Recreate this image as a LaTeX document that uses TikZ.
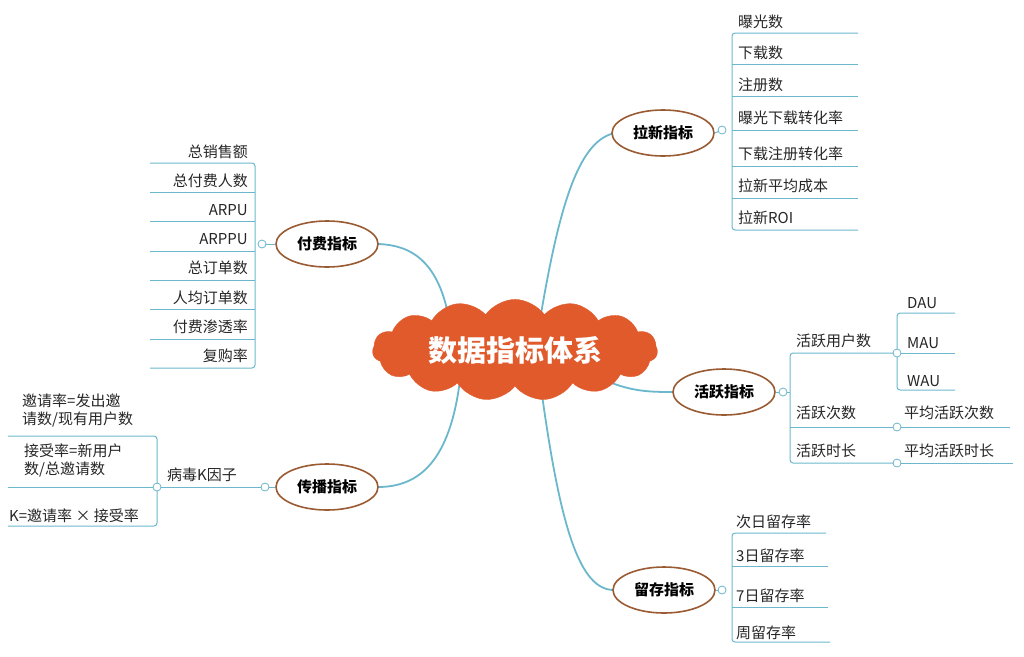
\documentclass[tikz,border=0pt]{standalone}
\usepackage{fontspec}
\setmainfont{Noto Sans CJK SC}
\usetikzlibrary{shapes.symbols,shapes.geometric}
\definecolor{teal}{HTML}{6BB7CC}
\definecolor{brn}{HTML}{9A5B33}
\definecolor{org}{HTML}{E05A2B}
\begin{document}
\begin{tikzpicture}[x=1pt,y=-1pt,
  br/.style={draw=teal,line width=1.8pt},
  ln/.style={draw=teal,line width=1pt,rounded corners=3pt},
  dot/.style={circle,draw=teal,fill=white,line width=0.8pt,inner sep=0pt,minimum size=8pt},
  ell/.style={ellipse,draw=brn,line width=1.6pt,fill=white,minimum width=102pt,minimum height=46pt,font=\fontsize{15}{15}\selectfont\bfseries},
  it/.style={font=\fontsize{15}{18}\selectfont,inner sep=0pt,text=black!85},
  itr/.style={it,anchor=base east},
  itl/.style={it,anchor=base west}]
\useasboundingbox (0,0) rectangle (1024,656);
% branches
\draw[br] (540,320) .. controls (560,200) and (580,140) .. (615,133);
\draw[br] (450,325) .. controls (440,260) and (410,245) .. (378,244);
\draw[br] (600,378) .. controls (630,392) and (650,392) .. (674,392);
\draw[br] (460,380) .. controls (450,460) and (420,487) .. (378,487);
\draw[br] (540,380) .. controls (560,530) and (580,590) .. (614,590);
\node[cloud,cloud puffs=15,cloud puff arc=110,aspect=3.4,fill=org,draw=org,minimum width=285pt,minimum height=90pt,text=white,font=\fontsize{29}{29}\selectfont\bfseries] (root) at (515,350) {数据指标体系};
% 拉新
\node[ell] (lx) at (663,133) {拉新指标};
\draw[ln] (lx.east) -- (722,130);
\draw[ln] (858,33) -- (732,33) -- (732,230) -- (858,230);
\foreach \y in {64,96,130,166,198} \draw[ln] (732,\y) -- (858,\y);
\node[dot] (lxd) at (722,130) {};
\foreach \t/\y in {曝光数/27,下载数/58,注册数/90,曝光下载转化率/123,下载注册转化率/159,拉新平均成本/191,拉新ROI/223}
  \node[itl] at (738,\y) {\t};
% 付费
\node[ell] (ff) at (327,244) {付费指标};
\draw[ln] (ff.west) -- (262,244);
\draw[ln] (150,163) -- (255,163) -- (255,368) -- (150,368);
\foreach \y in {192,221,251,280,309,339} \draw[ln] (150,\y) -- (255,\y);
\node[dot] (ffd) at (262,244) {};
\foreach \t/\y in {总销售额/157,总付费人数/186,ARPU/215,ARPPU/244,总订单数/273,人均订单数/303,付费渗透率/332,复购率/361}
  \node[itr] at (248,\y) {\t};
% 活跃
\node[ell] (hy) at (724,392) {活跃指标};
\draw[ln] (hy.east) -- (790,392);
\draw[ln] (895,353) -- (790,353) -- (790,463) -- (897,463);
\draw[ln] (790,427) -- (897,427);
\draw[ln] (955,313) -- (897,313) -- (897,390) -- (955,390);
\draw[ln] (897,353) -- (955,353);
\draw[ln] (897,427) -- (1010,427);
\draw[ln] (897,463) -- (1013,463);
\node[dot] (hyd) at (783,392) {};
\node[dot] (h1) at (897,353) {};
\node[dot] (h2) at (897,427) {};
\node[dot] (h3) at (897,463) {};
\node[itl] at (796,346) {活跃用户数};
\node[itl] at (796,418) {活跃次数};
\node[itl] at (796,456) {活跃时长};
\node[itl] at (907,308) {DAU};
\node[itl] at (907,348) {MAU};
\node[itl] at (907,386) {WAU};
\node[itl] at (904,418) {平均活跃次数};
\node[itl] at (904,456) {平均活跃时长};
% 传播
\node[ell] (cb) at (327,487) {传播指标};
\draw[ln] (cb.west) -- (157,487);
\draw[ln] (8,436) -- (157,436) -- (157,526) -- (8,526);
\draw[ln] (8,487) -- (157,487);
\node[dot] (cbd) at (265,487) {};
\node[dot] (cbk) at (157,487) {};
\node[itl] at (167,480) {病毒\textit{K}因子};
\node[itl,align=left,anchor=north west] at (22,394) {邀请率=发出邀\\请数/现有用户数};
\node[itl,align=left,anchor=north west] at (24,444) {接受率=新用户\\数/总邀请数};
\node[itl] at (9,521) {\textit{K}=邀请率 × 接受率};
% 留存
\node[ell] (lc) at (664,590) {留存指标};
\draw[ln] (lc.east) -- (722,590);
\draw[ln] (826,533) -- (732,533) -- (732,642) -- (830,642);
\foreach \y in {566,607} \draw[ln] (732,\y) -- (828,\y);
\node[dot] (lcd) at (722,590) {};
\foreach \t/\y in {次日留存率/527,3日留存率/561,7日留存率/601,周留存率/638}
  \node[itl] at (736,\y) {\t};
\end{tikzpicture}
\end{document}
